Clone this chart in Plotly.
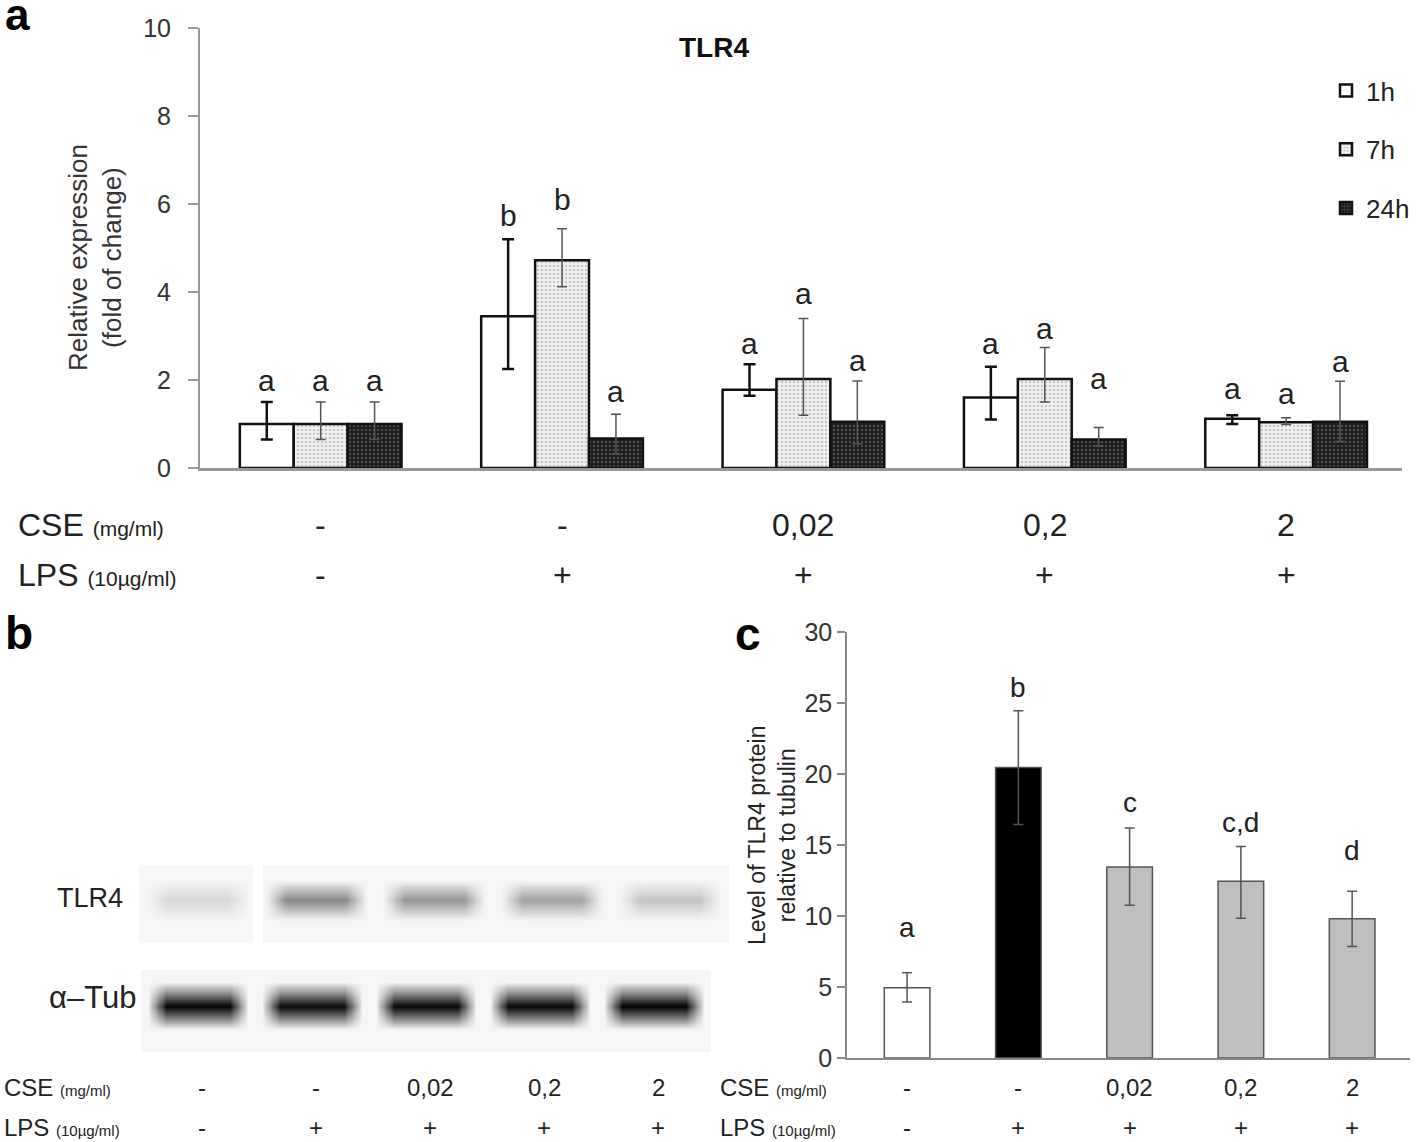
import plotly.graph_objects as go

W, H = 1418, 1142
FONT = "Liberation Sans, Arial, sans-serif"
NARROW = "Liberation Sans Narrow, Arial Narrow, Liberation Sans, sans-serif"

def fx(p):
    return p / W

def fy(p):
    return 1 - p / H

# ---------------- data: panel a (qPCR, TLR4) ----------------
groups = ["Control", "LPS", "CSE 0,02 + LPS", "CSE 0,2 + LPS", "CSE 2 + LPS"]
series_names = ["1h", "7h", "24h"]
val_1h = [1.0, 3.45, 1.78, 1.60, 1.12]
up_1h = [0.50, 1.75, 0.58, 0.70, 0.08]
dn_1h = [0.35, 1.20, 0.14, 0.50, 0.12]
val_7h = [1.0, 4.72, 2.02, 2.02, 1.04]
up_7h = [0.50, 0.72, 1.38, 0.72, 0.10]
dn_7h = [0.35, 0.60, 0.82, 0.52, 0.05]
val_24h = [1.0, 0.67, 1.05, 0.65, 1.05]
up_24h = [0.50, 0.55, 0.93, 0.27, 0.92]
dn_24h = [0.35, 0.35, 0.50, 0.15, 0.45]
let_1h = ["a", "b", "a", "a", "a"]
let_y_1h = [2.0, 5.75, 2.84, 2.83, 1.81]
let_7h = ["a", "b", "a", "a", "a"]
let_y_7h = [2.0, 6.1, 3.97, 3.17, 1.70]
let_24h = ["a", "a", "a", "a", "a"]
let_y_24h = [2.0, 1.73, 2.45, 2.04, 2.42]
a_yticks = [0, 2, 4, 6, 8, 10]

cse_labels = ["-", "-", "0,02", "0,2", "2"]
lps_labels = ["-", "+", "+", "+", "+"]

# ---------------- data: panel b (western blot band darkness 0..1) ----------------
tlr4_band = [0.16, 0.46, 0.41, 0.36, 0.23]
tub_band = [0.96, 0.94, 0.95, 0.95, 0.97]
blot_bg = 0.035

# ---------------- data: panel c (densitometry) ----------------
c_vals = [4.95, 20.45, 13.45, 12.45, 9.8]
c_up = [1.05, 4.0, 2.75, 2.45, 1.95]
c_dn = [1.0, 4.0, 2.7, 2.6, 1.95]
c_colors = ["#ffffff", "#000000", "#bfbfbf", "#bfbfbf", "#bfbfbf"]
c_letters = ["a", "b", "c", "c,d", "d"]
c_letter_y = [9.2, 26.1, 18.0, 16.6, 14.6]
c_yticks = [0, 5, 10, 15, 20, 25, 30]

fig = go.Figure()

# ---------- panel a bars ----------
xi = list(range(len(groups)))
fig.add_trace(go.Bar(
    x=xi, y=val_1h, name=series_names[0], legendgroup="g1",
    marker=dict(color="#ffffff", line=dict(color="#111111", width=2.5)),
    error_y=dict(type="data", symmetric=False, array=up_1h, arrayminus=dn_1h,
                 color="#111111", thickness=2.5, width=6),
    xaxis="x", yaxis="y"))
fig.add_trace(go.Bar(
    x=xi, y=val_7h, name=series_names[1], legendgroup="g2",
    marker=dict(color="#eeeeee", line=dict(color="#111111", width=2.5),
                pattern=dict(shape=".", fgcolor="#9a9a9a", bgcolor="#f2f2f2",
                             size=4, solidity=0.35)),
    error_y=dict(type="data", symmetric=False, array=up_7h, arrayminus=dn_7h,
                 color="#555555", thickness=1.5, width=5),
    xaxis="x", yaxis="y"))
fig.add_trace(go.Bar(
    x=xi, y=val_24h, name=series_names[2], legendgroup="g3",
    marker=dict(color="#2a2a2a", line=dict(color="#111111", width=2.5),
                pattern=dict(shape=".", fgcolor="#777777", bgcolor="#1c1c1c",
                             size=4, solidity=0.3)),
    error_y=dict(type="data", symmetric=False, array=up_24h, arrayminus=dn_24h,
                 color="#555555", thickness=1.5, width=5),
    xaxis="x", yaxis="y"))

BARGAP_A = 0.33
bw = (1 - BARGAP_A) / 3
annotations = []

def txt(x, y, text, xref="paper", yref="paper", size=25, fam=FONT, color="#222",
        xanchor="center", yanchor="middle", **kw):
    annotations.append(dict(x=x, y=y, xref=xref, yref=yref, text=text, showarrow=False,
                            xanchor=xanchor, yanchor=yanchor,
                            font=dict(family=fam, size=size, color=color), **kw))

for k, (labs, ys) in enumerate([(let_1h, let_y_1h), (let_7h, let_y_7h), (let_24h, let_y_24h)]):
    for i, (t, yv) in enumerate(zip(labs, ys)):
        txt(i + (k - 1) * bw, yv, t, xref="x", yref="y", size=30)

# ---------- panel c bars ----------
fig.add_trace(go.Bar(
    x=xi, y=c_vals, width=0.41, showlegend=False,
    marker=dict(color=c_colors, line=dict(color="#555555", width=1.5)),
    error_y=dict(type="data", symmetric=False, array=c_up, arrayminus=c_dn,
                 color="#555555", thickness=1.5, width=5),
    xaxis="x2", yaxis="y2"))
for i, (t, yv) in enumerate(zip(c_letters, c_letter_y)):
    txt(i, yv, t, xref="x2", yref="y2", size=28, fam=NARROW)

# ---------- panel b blot (heatmaps) ----------
bx = [-0.5 + 0.02 * i for i in range(251)]
by = [j / 40 for j in range(41)]

def ramp(d, half, soft):
    # 1 inside the band core, fading to 0 across the soft edge
    v = (half + soft - abs(d)) / (2 * soft)
    return max(0.0, min(1.0, v))

def strip(intens, half_w, soft_w, yc, half_h, soft_h):
    z = []
    for yv in by:
        row = []
        for xv in bx:
            lane = min(4, max(0, int(round(xv))))
            a = ramp(xv - lane, half_w, soft_w) * ramp(yv - yc, half_h, soft_h)
            row.append(blot_bg + (intens[lane] - blot_bg) * a)
        z.append(row)
    return z

cs = [[0, "#ffffff"], [1, "#000000"]]
fig.add_trace(go.Heatmap(x=bx, y=by, z=strip(tlr4_band, 0.34, 0.09, 0.55, 0.13, 0.13),
                         colorscale=cs, zmin=0, zmax=1, zsmooth="best",
                         showscale=False, hoverinfo="skip", xaxis="x3", yaxis="y3"))
fig.add_trace(go.Heatmap(x=bx, y=by, z=strip(tub_band, 0.36, 0.08, 0.56, 0.15, 0.14),
                         colorscale=cs, zmin=0, zmax=1, zsmooth="best",
                         showscale=False, hoverinfo="skip", xaxis="x4", yaxis="y4"))

# ---------- text rows ----------
for i in xi:
    txt(i, fy(525), cse_labels[i], xref="x", size=32)
    txt(i, fy(575), lps_labels[i], xref="x", size=32)
    txt(i, fy(1087), cse_labels[i], xref="x4", size=24, fam=NARROW, xshift=4)
    txt(i, fy(1127), lps_labels[i], xref="x4", size=24, fam=NARROW, xshift=4)
    txt(i, fy(1087), cse_labels[i], xref="x2", size=24, fam=NARROW)
    txt(i, fy(1127), lps_labels[i], xref="x2", size=24, fam=NARROW)

def row_label(main, unit, x, y, size, usize, fam):
    txt(fx(x), fy(y), f'{main} <span style="font-size:{usize}px">{unit}</span>',
        size=size, fam=fam, xanchor="left")

row_label("CSE", "(mg/ml)", 16, 525, 32, 21, FONT)
row_label("LPS", "(10µg/ml)", 16, 575, 32, 21, FONT)
row_label("CSE", "(mg/ml)", 2, 1087, 24, 15, NARROW)
row_label("LPS", "(10µg/ml)", 2, 1127, 24, 15, NARROW)
row_label("CSE", "(mg/ml)", 718, 1087, 24, 15, NARROW)
row_label("LPS", "(10µg/ml)", 718, 1127, 24, 15, NARROW)

# panel letters, titles, axis titles
txt(fx(17), fy(0), "<b>a</b>", size=44, color="#000", yanchor="top", yshift=12)
for t, x, y in [("b", 19, 633), ("c", 748, 634)]:
    txt(fx(x), fy(y), f"<b>{t}</b>", size=46, color="#000")
txt(fx(714), fy(48), "<b>TLR4</b>", size=28, color="#111")
txt(fx(95), fy(258), "Relative expression<br>(fold of change)", size=26, color="#333",
    textangle=-90)
txt(fx(772), fy(835), "Level of TLR4 protein<br>relative to tubulin", size=23,
    textangle=-90)
txt(fx(90), fy(898), "TLR4", size=27, fam=NARROW)
txt(fx(92), fy(997), "α–Tub", size=31, fam=NARROW)

shapes = [
    # white separator between blot lane 1 and the rest of the TLR4 strip
    dict(type="rect", xref="paper", yref="paper", x0=fx(253), x1=fx(263), y0=fy(945), y1=fy(860),
         fillcolor="#ffffff", line=dict(width=0), layer="above"),
]

fig.update_layout(
    width=W, height=H, margin=dict(l=0, r=0, t=0, b=0, autoexpand=False),
    paper_bgcolor="#ffffff", plot_bgcolor="rgba(0,0,0,0)",
    barmode="group", bargap=BARGAP_A, bargroupgap=0,
    font=dict(family=FONT, color="#222"),
    showlegend=True,
    legend=dict(x=fx(1326), y=fy(67), xanchor="left", yanchor="top",
                font=dict(family=FONT, size=26, color="#222"),
                tracegroupgap=22, itemwidth=30, bgcolor="rgba(0,0,0,0)"),
    xaxis=dict(domain=[fx(200), fx(1402)], range=[-0.5, 4.48], showticklabels=False,
               ticks="", showgrid=False, zeroline=False, showline=True, automargin=False,
               linecolor="#999999", linewidth=2.5, anchor="y", fixedrange=True),
    yaxis=dict(domain=[fy(468), fy(28)], range=[0, 10], tickvals=a_yticks,
               ticks="outside", ticklen=10, tickwidth=2, tickcolor="#999999",
               showline=True, linecolor="#999999", linewidth=2, showgrid=False,
               zeroline=False, tickfont=dict(family=FONT, size=25, color="#333"),
               ticklabelstandoff=12, anchor="x", automargin=False),
    xaxis2=dict(domain=[fx(847), fx(1410)], range=[-0.54, 4.52], showticklabels=False,
                ticks="", showgrid=False, zeroline=False, showline=True, automargin=False,
                linecolor="#888888", linewidth=2, anchor="y2"),
    yaxis2=dict(domain=[fy(1058), fy(632)], range=[0, 30], tickvals=c_yticks,
                ticks="outside", ticklen=8, tickwidth=1.5, tickcolor="#888888",
                showline=True, linecolor="#888888", linewidth=1.5, showgrid=False,
                zeroline=False, tickfont=dict(family=NARROW, size=25, color="#333"),
                anchor="x2", automargin=False),
    xaxis3=dict(domain=[fx(139), fx(729)], range=[-0.5, 4.5], visible=False, anchor="y3",
                automargin=False),
    yaxis3=dict(domain=[fy(943), fy(865)], range=[0, 1], visible=False, anchor="x3",
                automargin=False),
    xaxis4=dict(domain=[fx(141), fx(711)], range=[-0.5, 4.5], visible=False, anchor="y4",
                automargin=False),
    yaxis4=dict(domain=[fy(1052), fy(970)], range=[0, 1], visible=False, anchor="x4",
                automargin=False),
    annotations=annotations,
    shapes=shapes,
)

fig.write_html(
    "out.html",
    config={"displayModeBar": False},
    post_script=(
        "document.documentElement.style.margin='0';"
        "document.body.style.margin='0';document.body.style.overflow='hidden';"
        "var gd=document.getElementById('{plot_id}');"
        "gd.style.position='absolute';gd.style.left='0px';gd.style.top='0px';"
    ),
)
